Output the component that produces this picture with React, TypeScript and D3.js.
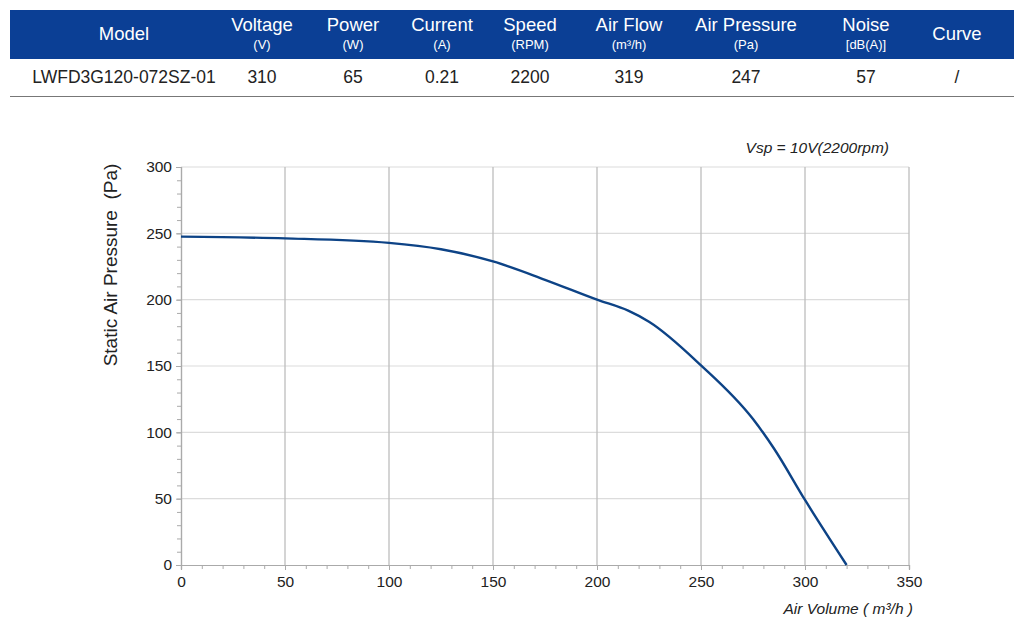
import React, { useRef, useEffect } from "react";
import * as d3 from "d3";

// spec table
const headers = ["Model", "Voltage", "Power", "Current", "Speed", "Air Flow", "Air Pressure", "Noise", "Curve"];
const units = ["", "(V)", "(W)", "(A)", "(RPM)", "(m³/h)", "(Pa)", "[dB(A)]", ""];
const rowValues = ["LWFD3G120-072SZ-01", "310", "65", "0.21", "2200", "319", "247", "57", "/"];
const colCenters = [124, 262, 353, 442, 530, 629, 746, 866, 957];

// fan curve
const airVolume = [0, 50, 100, 125, 150, 175, 200, 215, 225, 250, 275, 285, 300, 320];
const pressure = [247.5, 246.2, 242.8, 238, 228.8, 215, 200, 191.7, 183.4, 150.5, 110, 88, 49, 0];

const xTicks = [0, 50, 100, 150, 200, 250, 300, 350];
const yTicks = [0, 50, 100, 150, 200, 250, 300];

const FONT = '"Liberation Sans", Arial, sans-serif';

const App: React.FC = () => {
  const svgRef = useRef<SVGSVGElement | null>(null);

  useEffect(() => {
    if (!svgRef.current) return;
    const svg = d3.select(svgRef.current);
    svg.selectAll("*").remove();

    /* table */
    const tbl = svg.append("g").attr("font-family", FONT);
    tbl.append("rect").attr("x", 10).attr("y", 10).attr("width", 1004).attr("height", 49).attr("fill", "#0b3f95");
    headers.forEach((h, i) => {
      const cx = colCenters[i];
      if (units[i]) {
        tbl.append("text").attr("x", cx).attr("y", 31).attr("text-anchor", "middle")
          .attr("fill", "#fff").attr("font-size", 18.5).text(h);
        tbl.append("text").attr("x", cx).attr("y", 49).attr("text-anchor", "middle")
          .attr("fill", "#fff").attr("font-size", 13).text(units[i]);
      } else {
        tbl.append("text").attr("x", cx).attr("y", 40).attr("text-anchor", "middle")
          .attr("fill", "#fff").attr("font-size", 18.5).text(h);
      }
    });
    rowValues.forEach((v, i) => {
      tbl.append("text").attr("x", colCenters[i]).attr("y", 83).attr("text-anchor", "middle")
        .attr("fill", "#222").attr("font-size", 17.5).text(v);
    });
    tbl.append("line").attr("x1", 10).attr("x2", 1014).attr("y1", 96.5).attr("y2", 96.5)
      .attr("stroke", "#777").attr("stroke-width", 1);

    /* chart */
    const x = d3.scaleLinear().domain([0, 350]).range([181, 909]);
    const y = d3.scaleLinear().domain([0, 300]).range([565, 167]);

    const g = svg.append("g").attr("font-family", FONT);

    // horizontal grid
    g.selectAll("line.hg").data(yTicks.filter((d) => d > 0)).join("line")
      .attr("x1", x(0)).attr("x2", x(350))
      .attr("y1", (d) => y(d)).attr("y2", (d) => y(d))
      .attr("stroke", "#dcdcdc").attr("stroke-width", 1.2);
    // vertical grid
    g.selectAll("line.vg").data(xTicks.filter((d) => d > 0)).join("line")
      .attr("x1", (d) => x(d)).attr("x2", (d) => x(d))
      .attr("y1", y(0)).attr("y2", y(300))
      .attr("stroke", "#bdbdbd").attr("stroke-width", 1.3);

    // minor ticks
    const minor = d3.range(0, 351, 10);
    const yAxis = d3.axisLeft(y).tickValues(d3.range(0, 301, 10)).tickSize(4).tickFormat(() => "");
    const gy = g.append("g").attr("transform", `translate(${x(0)},0)`).call(yAxis);
    const xAxisMinor = d3.axisBottom(x).tickValues(minor).tickSize(4).tickFormat(() => "");
    const gxm = g.append("g").attr("transform", `translate(0,${y(0)})`).call(xAxisMinor);

    // major ticks with labels
    const gyl = g.append("g").attr("transform", `translate(${x(0)},0)`)
      .call(d3.axisLeft(y).tickValues(yTicks).tickSize(5).tickPadding(4).tickFormat(d3.format("d")));
    const gxl = g.append("g").attr("transform", `translate(0,${y(0)})`)
      .call(d3.axisBottom(x).tickValues(xTicks).tickSize(5).tickPadding(6).tickFormat(d3.format("d")));

    [gy, gxm, gyl, gxl].forEach((ax) => {
      ax.select(".domain").attr("stroke", "#aaa").attr("stroke-width", 1.2);
      ax.selectAll(".tick line").attr("stroke", "#aaa");
      ax.selectAll(".tick text").attr("fill", "#222").attr("font-size", 15.5).attr("font-family", FONT);
    });

    // curve
    const pts = airVolume.map((v, i) => [v, pressure[i]] as [number, number]);
    const line = d3.line<[number, number]>()
      .x((d) => x(d[0]))
      .y((d) => y(d[1]))
      .curve(d3.curveMonotoneX);
    g.append("path").datum(pts).attr("d", line).attr("fill", "none")
      .attr("stroke", "#0d4386").attr("stroke-width", 2.4);

    // labels
    g.append("text").attr("transform", "translate(117,265) rotate(-90)")
      .attr("text-anchor", "middle").attr("fill", "#222").attr("font-size", 19)
      .style("white-space", "pre").text("Static Air Pressure  (Pa)");
    g.append("text").attr("x", 913).attr("y", 614).attr("text-anchor", "end")
      .attr("fill", "#222").attr("font-size", 15.5).attr("font-style", "italic")
      .text("Air Volume ( m³/h )");
    g.append("text").attr("x", 889).attr("y", 153).attr("text-anchor", "end")
      .attr("fill", "#222").attr("font-size", 15.5).attr("font-style", "italic")
      .text("Vsp = 10V(2200rpm)");
  }, []);

  return (
    <svg
      ref={svgRef}
      width={1024}
      height={628}
      style={{ position: "absolute", left: 0, top: 0, background: "#fff" }}
    />
  );
};

export default App;
